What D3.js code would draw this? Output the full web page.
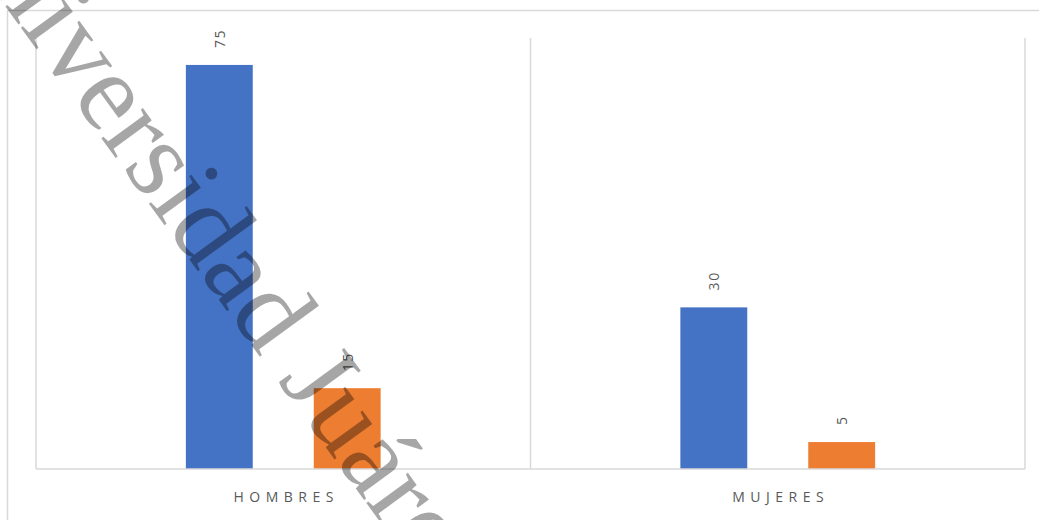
<!DOCTYPE html>
<html>
<head>
<meta charset="utf-8">
<script src="https://cdn.jsdelivr.net/npm/d3@7"></script>
<style>
  body { margin: 0; background: white; }
</style>
</head>
<body>
<div id="canvas"></div>
<script>
const width = 1039;
const height = 520;

// data
const categories = ["HOMBRES", "MUJERES"];
const series = ["s1", "s2"];
const values = {
    s1: [75, 30],
    s2: [15, 5]
};
const colors = ["#4472C4", "#ED7D31"];

const plot = { left: 36, right: 1025, top: 38, bottom: 469 };

const svg = d3.select("#canvas")
    .append("svg")
    .attr("width", width)
    .attr("height", height);

svg.append("rect")
    .attr("width", width)
    .attr("height", height)
    .attr("fill", "white");

// chart border (runs off the right and bottom edges)
svg.append("rect")
    .attr("x", 7.5)
    .attr("y", 10.5)
    .attr("width", width + 20)
    .attr("height", height + 20)
    .attr("fill", "none")
    .attr("stroke", "#d9d9d9")
    .attr("stroke-width", 1.5);

const x = d3.scaleBand()
    .domain(categories)
    .range([plot.left, plot.right]);

const sub = d3.scaleBand()
    .domain(series)
    .range([0, x.bandwidth()])
    .paddingInner(0.477)
    .paddingOuter(1.172);

const y = d3.scaleLinear()
    .domain([0, 80])
    .range([plot.bottom, plot.top]);

// vertical grid lines at the category boundaries
const bounds = categories.map(c => x(c)).concat([plot.right]);
svg.selectAll(".vgrid")
    .data(bounds)
    .enter()
    .append("line")
    .attr("x1", d => d)
    .attr("x2", d => d)
    .attr("y1", plot.top)
    .attr("y2", plot.bottom)
    .attr("stroke", "#d9d9d9")
    .attr("stroke-width", 1.5);

// bars
series.forEach(function(s, si) {
    svg.selectAll(".bar-" + s)
        .data(values[s])
        .enter()
        .append("rect")
        .attr("x", (d, i) => x(categories[i]) + sub(s))
        .attr("y", d => y(d))
        .attr("width", sub.bandwidth())
        .attr("height", d => y(0) - y(d))
        .attr("fill", colors[si]);

    // value labels, rotated
    svg.selectAll(".label-" + s)
        .data(values[s])
        .enter()
        .append("text")
        .attr("transform", (d, i) => {
            let cx = x(categories[i]) + sub(s) + sub.bandwidth() / 2;
            return "translate(" + cx + "," + (y(d) - 17) + ") rotate(-90)";
        })
        .attr("dominant-baseline", "central")
        .attr("font-family", "Open Sans, sans-serif")
        .attr("font-size", 14)
        .attr("letter-spacing", 1.5)
        .attr("fill", "#595959")
        .text(d => d);
});

// baseline
svg.append("line")
    .attr("x1", plot.left)
    .attr("x2", plot.right)
    .attr("y1", plot.bottom)
    .attr("y2", plot.bottom)
    .attr("stroke", "#d9d9d9")
    .attr("stroke-width", 1.5);

// category labels
svg.selectAll(".cat")
    .data(categories)
    .enter()
    .append("text")
    .attr("x", d => x(d) + x.bandwidth() / 2 + 3)
    .attr("y", 502)
    .attr("text-anchor", "middle")
    .attr("font-family", "Open Sans, sans-serif")
    .attr("font-size", 14)
    .attr("letter-spacing", 5.5)
    .attr("fill", "#595959")
    .text(d => d);

// watermark across the chart
svg.append("text")
    .attr("transform", "translate(-61,-85) rotate(54)")
    .attr("font-family", "Liberation Serif, serif")
    .attr("font-size", 112)
    .attr("fill", "black")
    .attr("fill-opacity", 0.35)
    .text("Universidad Juárez");
</script>
</body>
</html>
